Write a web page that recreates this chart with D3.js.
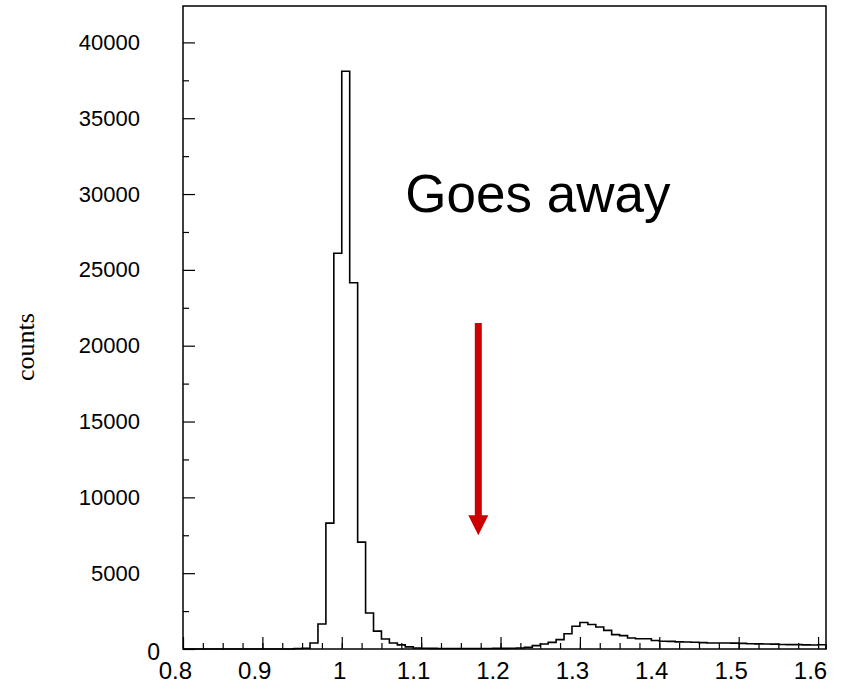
<!DOCTYPE html>
<meta charset="utf-8">
<style>
body { margin: 0; background: #fff; }
svg text { font-family: "Liberation Sans", Arial, Helvetica, sans-serif; }
</style>
<svg width="842" height="683"></svg>
<script src="https://d3js.org/d3.v7.min.js"></script>
<script>

// histogram: bins of width 0.01 starting at 0.80
var binStart = 0.80,
    binWidth = 0.01;
var counts = [
  0, 0, 0, 0, 0, 0, 0, 0, 0, 0,                            // 0.80 - 0.89
  0, 0, 0, 0, 30, 50, 400, 1650, 8300, 26100,              // 0.90 - 0.99
  38100, 24150, 7050, 2370, 1180, 660, 400, 270, 140, 70,  // 1.00 - 1.09
  50, 40, 30, 30, 30, 30, 30, 30, 30, 40,                  // 1.10 - 1.19
  40, 50, 70, 110, 220, 330, 440, 620, 1010, 1500,         // 1.20 - 1.29
  1750, 1620, 1450, 1230, 950, 880, 730, 680, 680, 560,    // 1.30 - 1.39
  510, 500, 470, 460, 450, 420, 400, 400, 395, 390,        // 1.40 - 1.49
  370, 350, 340, 330, 320, 300, 290, 290, 270, 260,        // 1.50 - 1.59
  280                                                      // 1.60
];

var xTicks = [0.8, 0.9, 1.0, 1.1, 1.2, 1.3, 1.4, 1.5, 1.6],
    xTickLabels = ["0.8", "0.9", "1", "1.1", "1.2", "1.3", "1.4", "1.5", "1.6"];
var yTicks = [0, 5000, 10000, 15000, 20000, 25000, 30000, 35000, 40000];

// annotation, in data coordinates
var noteText = "Goes away",
    noteAt = [1.08, 28800],
    arrowX = 1.172,
    arrowFrom = 21500,
    arrowTo = 7500;

var svg = d3.select("svg");
var x = d3.scaleLinear().domain([0.8, 1.61]).range([183, 826]),
    y = d3.scaleLinear().domain([0, 42400]).range([649, 6]);

// frame
svg.append("rect")
  .attr("x", x(0.8)).attr("y", y(42400))
  .attr("width", x(1.61) - x(0.8)).attr("height", y(0) - y(42400))
  .attr("fill", "none").attr("stroke", "#000").attr("stroke-width", 1.5);

// minor ticks (inside)
svg.append("g")
  .attr("transform", "translate(0," + y(0) + ")")
  .call(d3.axisBottom(x).tickValues(d3.range(0.825, 1.61, 0.025)).tickSize(-6).tickFormat(""))
  .call(function(g) { g.select(".domain").remove(); });
svg.append("g")
  .attr("transform", "translate(" + x(0.8) + ",0)")
  .call(d3.axisLeft(y).tickValues(d3.range(2500, 42400, 5000)).tickSize(-6).tickFormat(""))
  .call(function(g) { g.select(".domain").remove(); });

// major ticks + labels
var xAxis = svg.append("g")
  .attr("transform", "translate(0," + y(0) + ")")
  .call(d3.axisBottom(x).tickValues(xTicks).tickSize(-12).tickPadding(13)
    .tickFormat(function(d, i) { return xTickLabels[i]; }));
xAxis.select(".domain").remove();
xAxis.selectAll("text")
  .attr("font-size", 24).attr("font-family", null).attr("fill", "#000")
  .attr("dx", function() { return -2.7 * this.textContent.length; });

var yAxis = svg.append("g")
  .attr("transform", "translate(" + x(0.8) + ",0)")
  .call(d3.axisLeft(y).tickValues(yTicks).tickSize(-12).tickPadding(43));
yAxis.select(".domain").remove();
yAxis.selectAll("text")
  .attr("font-size", 22).attr("font-family", null).attr("fill", "#000")
  .text(function(d) { return d; })
  .filter(function(d) { return d === 0; })
  .attr("font-size", 23)
  .attr("dx", 20).attr("dy", "0.45em");
svg.selectAll(".tick line").attr("stroke", "#000").attr("stroke-width", 1.2);

// histogram outline
var pts = [[x(binStart), y(0)]];
counts.forEach(function(c, i) {
  var x0 = binStart + i * binWidth;
  pts.push([x(x0), y(c)], [x(x0 + binWidth), y(c)]);
});
pts.push([x(binStart + counts.length * binWidth), y(0)]);
svg.append("path")
  .attr("d", d3.line()(pts))
  .attr("fill", "none").attr("stroke", "#000").attr("stroke-width", 1.6);

// y title
svg.append("text")
  .attr("transform", "translate(34,347) rotate(-90)")
  .attr("text-anchor", "middle")
  .style("font-family", "'Liberation Serif', 'Times New Roman', serif")
  .attr("font-size", 26)
  .text("counts");

// annotation
svg.append("text")
  .attr("x", x(noteAt[0])).attr("y", y(noteAt[1]))
  .attr("font-size", 53)
  .text(noteText);

var red = "#cc0000";
svg.append("line")
  .attr("x1", x(arrowX)).attr("x2", x(arrowX))
  .attr("y1", y(arrowFrom)).attr("y2", y(arrowTo) - 18)
  .attr("stroke", red).attr("stroke-width", 7);
svg.append("path")
  .attr("d", d3.line()([[x(arrowX) - 10, y(arrowTo) - 20], [x(arrowX) + 10, y(arrowTo) - 20], [x(arrowX), y(arrowTo)]]) + "Z")
  .attr("fill", red);

</script>
